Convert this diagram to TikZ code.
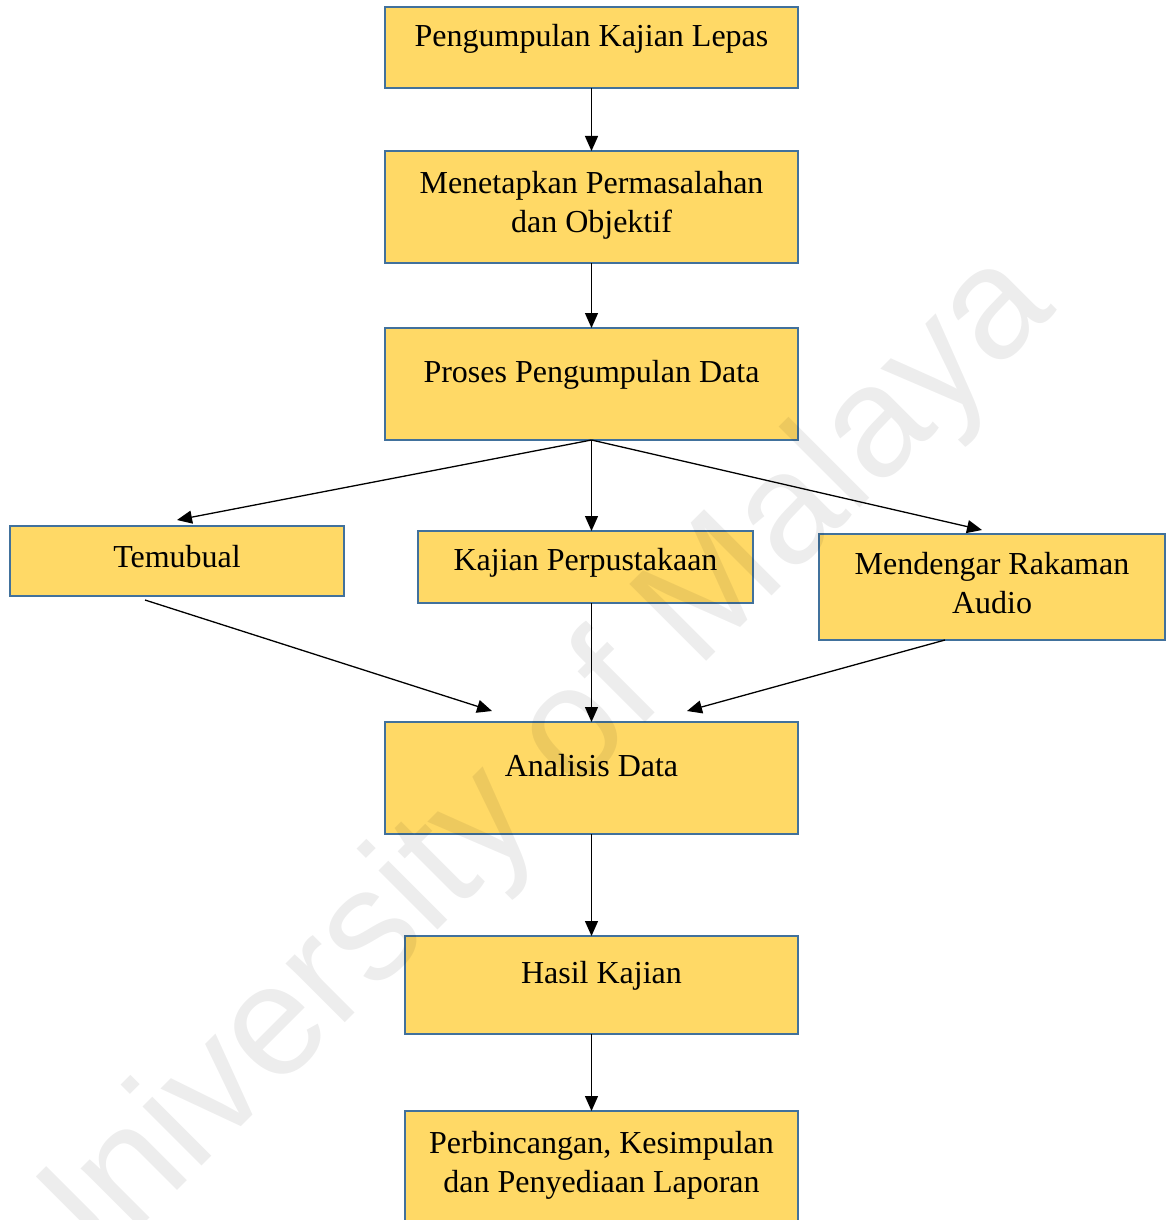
\documentclass[tikz,border=0pt]{standalone}
\usepackage{fontspec}
\setmainfont{Liberation Serif}
\newfontfamily\wmfont{Liberation Sans}
\usetikzlibrary{arrows.meta, positioning}
\definecolor{boxfill}{HTML}{FFD966}
\definecolor{boxline}{HTML}{41719C}

\begin{document}
\begin{tikzpicture}[>={Triangle[length=7.5pt,width=6.5pt]},
 box node/.style={rectangle,draw=boxline,line width=1pt,fill=boxfill,
   inner xsep=2pt,inner ysep=0pt,outer sep=0pt,align=center,
   font=\fontsize{16pt}{19.5pt}\selectfont},
 every edge/.style={draw,->,black,line width=0.65pt}]
\useasboundingbox (0,0) rectangle (584pt,-610pt);

\node[box node,minimum width=206.5pt,text height=20pt,text depth=20.5pt](lepas) at (295.75pt,-23.75pt){Pengumpulan Kajian Lepas};
\node[box node,minimum width=206.5pt,text height=40.5pt,text depth=15.5pt](masalah)[below=31.5pt of lepas]{Menetapkan Permasalahan\\dan Objektif};
\node[box node,minimum width=206.5pt,text height=27pt,text depth=29pt](proses)[below=32.5pt of masalah]{Proses Pengumpulan Data};
% baris tengah
\node[box node,minimum width=167.5pt,text height=19.5pt,text depth=16.5pt](pustaka)[below=45.5pt of proses,xshift=-3pt]{Kajian Perpustakaan};
\node[box node,minimum width=167pt,text height=20.5pt,text depth=14.5pt](temubual)[left=37pt of pustaka.north west,anchor=north east,yshift=2.5pt]{Temubual};
\node[box node,minimum width=173pt,text height=39.5pt,text depth=13.5pt](rakaman)[right=33pt of pustaka.north east,anchor=north west,yshift=-1.5pt]{Mendengar Rakaman\\Audio};
\node[box node,minimum width=206.5pt,text height=27pt,text depth=29pt](analisis)[below=141pt of proses]{Analisis Data};
\node[box node,minimum width=196.5pt,text height=23.5pt,text depth=25.5pt](hasil)[below=51pt of analisis.south east,anchor=north east]{Hasil Kajian};
\node[box node,minimum width=196.5pt,text height=40.5pt,text depth=19.5pt](laporan)[below=38.5pt of hasil.south east,anchor=north east]{Perbincangan, Kesimpulan\\dan Penyediaan Laporan};

\path
  (lepas) edge (masalah)
  (masalah) edge (proses)
  (proses.south) edge ([yshift=3pt]temubual.north)
      edge (proses.south |- pustaka.north)
      edge ([xshift=-5pt,yshift=2pt]rakaman.north)
  ([xshift=-16pt,yshift=-2pt]temubual.south) edge ([xshift=-49.75pt,yshift=5.5pt]analisis.north)
  (analisis.north |- pustaka.south) edge (analisis.north)
  ([xshift=-23.5pt]rakaman.south) edge ([xshift=47.75pt,yshift=5.5pt]analisis.north)
  (analisis.south) edge (analisis.south |- hasil.north)
  (analisis.south |- hasil.south) edge (analisis.south |- laporan.north);

% tanda air
\node[font=\wmfont\fontsize{79pt}{79pt}\selectfont,text=black,text opacity=0.07,rotate=45](tandaair) at (263pt,-392pt){University of Malaya};
\end{tikzpicture}
\end{document}
